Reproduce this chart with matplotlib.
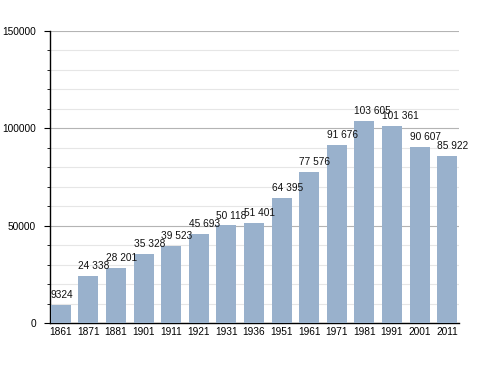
import matplotlib
matplotlib.use('Agg')
import matplotlib.pyplot as plt
from matplotlib.ticker import MultipleLocator

plt.rcParams['font.family'] = ['Liberation Sans', 'DejaVu Sans']

years = ['1861', '1871', '1881', '1901', '1911', '1921', '1931', '1936',
         '1951', '1961', '1971', '1981', '1991', '2001', '2011']
population = [9324, 24338, 28201, 35328, 39523, 45693, 50118, 51401,
              64395, 77576, 91676, 103605, 101361, 90607, 85922]
labels = ['9324', '24 338', '28 201', '35 328', '39 523', '45 693', '50 118',
          '51 401', '64 395', '77 576', '91 676', '103 605', '101 361',
          '90 607', '85 922']

fig = plt.figure(figsize=(4.88, 3.73), dpi=100)
ax = fig.add_axes([0.1025, 0.134, 0.838, 0.783])

x = list(range(len(years)))
bw = 0.725
ax.bar(x, population, width=bw, color='#99b1cc', zorder=3)

for xi, v, lab in zip(x, population, labels):
    ax.annotate(lab, (xi - bw / 2, v), xytext=(0, 3.5), textcoords='offset points',
                ha='left', va='bottom', fontsize=7.3, color='#111111', zorder=4)

ax.set_xlim(-0.39, 14.43)
ax.set_ylim(0, 150000)
ax.set_xticks(x)
ax.set_xticklabels(years)
ax.yaxis.set_major_locator(MultipleLocator(50000))
ax.yaxis.set_minor_locator(MultipleLocator(10000))
ax.grid(axis='y', which='major', color='#b4b4b4', linewidth=0.8, zorder=0)
ax.grid(axis='y', which='minor', color='#e6e6e6', linewidth=0.8, zorder=0)

for s in ['top', 'right']:
    ax.spines[s].set_visible(False)
ax.spines['left'].set_linewidth(1.0)
ax.spines['bottom'].set_linewidth(1.0)

ax.tick_params(axis='x', length=0, pad=3, labelsize=7.3)
ax.tick_params(axis='y', which='major', length=4, labelsize=7.3, pad=6)
ax.tick_params(axis='y', which='minor', length=2)

fig.savefig('out.png', dpi=100)
